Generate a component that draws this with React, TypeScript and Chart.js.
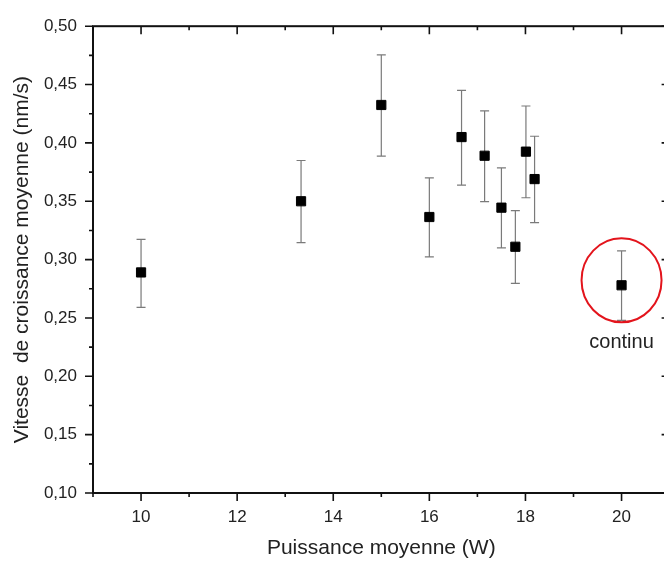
import React, { useEffect, useRef } from "react";
import { Chart, registerables } from "chart.js";

Chart.register(...registerables);

// ---- data ----
const power = [10, 13.33, 15, 16, 16.67, 17.15, 17.5, 17.79, 18.01, 18.19, 20];
const speed = [0.289, 0.350, 0.4325, 0.3365, 0.405, 0.389, 0.3445, 0.311, 0.3925, 0.369, 0.278];
const speedUpper = [0.3174, 0.3849, 0.4755, 0.3701, 0.445, 0.4274, 0.3786, 0.3419, 0.4316, 0.4057, 0.3074];
const speedLower = [0.259, 0.3145, 0.3886, 0.3023, 0.3638, 0.3496, 0.31, 0.2797, 0.353, 0.3316, 0.2479];

const xMajorTicks = [10, 12, 14, 16, 18, 20];
const xMinorTicks = [9, 11, 13, 15, 17, 19, 21];
const yMajorTicks = [0.1, 0.15, 0.2, 0.25, 0.3, 0.35, 0.4, 0.45, 0.5];
const yMinorTicks = [0.125, 0.175, 0.225, 0.275, 0.325, 0.375, 0.425, 0.475];

const xTitle = "Puissance moyenne (W)";
const yTitle = "Vitesse  de croissance moyenne (nm/s)";
const annotationLabel = "continu";
const annotationIndex = 10;

const FONT = "'Liberation Sans', Arial, sans-serif";

const errorBarPlugin = {
  id: "errorBars",
  beforeDatasetsDraw(chart: any) {
    const { ctx, scales } = chart;
    const x = scales.x;
    const y = scales.y;
    ctx.save();
    ctx.strokeStyle = "#7a7a7a";
    ctx.lineWidth = 1.2;
    const cap = 4.5;
    for (let i = 0; i < power.length; i++) {
      const px = x.getPixelForValue(power[i]);
      const top = y.getPixelForValue(speedUpper[i]);
      const bot = y.getPixelForValue(speedLower[i]);
      ctx.beginPath();
      ctx.moveTo(px, top);
      ctx.lineTo(px, bot);
      ctx.moveTo(px - cap, top);
      ctx.lineTo(px + cap, top);
      ctx.moveTo(px - cap, bot);
      ctx.lineTo(px + cap, bot);
      ctx.stroke();
    }
    ctx.restore();
  },
};

const framePlugin = {
  id: "frame",
  afterDraw(chart: any) {
    const { ctx, chartArea: a, scales } = chart;
    const x = scales.x;
    const y = scales.y;
    ctx.save();
    ctx.strokeStyle = "#111";
    ctx.lineWidth = 2;
    ctx.strokeRect(a.left, a.top, a.right - a.left, a.bottom - a.top);
    ctx.lineWidth = 1.6;
    ctx.beginPath();
    const xt = (v: number, len: number) => {
      const px = x.getPixelForValue(v);
      ctx.moveTo(px, a.bottom);
      ctx.lineTo(px, a.bottom + len);
      ctx.moveTo(px, a.top);
      ctx.lineTo(px, a.top + len);
    };
    xMajorTicks.forEach((v) => xt(v, 8));
    xMinorTicks.forEach((v) => xt(v, 4));
    const yt = (v: number, len: number) => {
      const py = y.getPixelForValue(v);
      ctx.moveTo(a.left, py);
      ctx.lineTo(a.left - len, py);
      ctx.moveTo(a.right, py);
      ctx.lineTo(a.right - len, py);
    };
    yMajorTicks.forEach((v) => yt(v, 8));
    yMinorTicks.forEach((v) => yt(v, 4));
    ctx.stroke();
    ctx.restore();
  },
};

const annotationPlugin = {
  id: "annot",
  afterDatasetsDraw(chart: any) {
    const { ctx, scales } = chart;
    const px = scales.x.getPixelForValue(power[annotationIndex]);
    const py = scales.y.getPixelForValue(speed[annotationIndex]);
    ctx.save();
    ctx.strokeStyle = "#e3141c";
    ctx.lineWidth = 2;
    ctx.beginPath();
    ctx.ellipse(px, py - 5, 40, 42, 0, 0, Math.PI * 2);
    ctx.stroke();
    ctx.fillStyle = "#222";
    ctx.font = `20px ${FONT}`;
    ctx.textAlign = "center";
    ctx.textBaseline = "alphabetic";
    ctx.fillText(annotationLabel, px, py + 63);
    ctx.restore();
  },
};

export default function App() {
  const ref = useRef<HTMLCanvasElement | null>(null);
  useEffect(() => {
    if (!ref.current) return;
    const chart = new Chart(ref.current, {
      type: "scatter",
      data: {
        datasets: [
          {
            data: power.map((p, i) => ({ x: p, y: speed[i] })),
            pointStyle: "rect",
            pointRadius: 6.5,
            pointHoverRadius: 6.5,
            backgroundColor: "#000",
            borderColor: "#000",
            borderWidth: 1,
          },
        ],
      },
      options: {
        animation: false,
        responsive: false,
        events: [],
        layout: { padding: { left: 0, right: 10.4, top: 25, bottom: 0 } },
        plugins: { legend: { display: false }, tooltip: { enabled: false } },
        scales: {
          x: {
            type: "linear",
            min: 9,
            max: 21,
            afterBuildTicks: (s: any) => {
              s.ticks = xMajorTicks.map((v) => ({ value: v }));
            },
            afterFit: (s: any) => {
              s.height = 68;
            },
            grid: { display: false, drawTicks: false },
            border: { display: false },
            ticks: {
              padding: 14.5,
              color: "#222",
              font: { family: FONT, size: 17 },
              maxRotation: 0,
              callback: (v: any) => String(v),
            },
            title: {
              display: true,
              text: xTitle,
              color: "#222",
              font: { family: FONT, size: 21 },
              padding: { top: 0, bottom: 0.5 },
            },
          },
          y: {
            type: "linear",
            min: 0.1,
            max: 0.5,
            afterBuildTicks: (s: any) => {
              s.ticks = yMajorTicks.map((v) => ({ value: v }));
            },
            afterFit: (s: any) => {
              s.width = 93;
            },
            grid: { display: false, drawTicks: false },
            border: { display: false },
            ticks: {
              padding: 16,
              color: "#222",
              font: { family: FONT, size: 17 },
              callback: (v: any) => Number(v).toFixed(2).replace(".", ","),
            },
            title: {
              display: true,
              text: yTitle,
              color: "#222",
              font: { family: FONT, size: 21 },
              padding: { top: 10, bottom: 0 },
            },
          },
        },
      },
      plugins: [errorBarPlugin, framePlugin, annotationPlugin],
    } as any);
    return () => chart.destroy();
  }, []);
  return (
    <div
      style={{
        position: "fixed",
        left: 0,
        top: 0,
        width: 664,
        height: 561,
        overflow: "hidden",
        background: "#fff",
      }}
    >
      <canvas ref={ref} width={680} height={561} style={{ display: "block" }} />
    </div>
  );
}
